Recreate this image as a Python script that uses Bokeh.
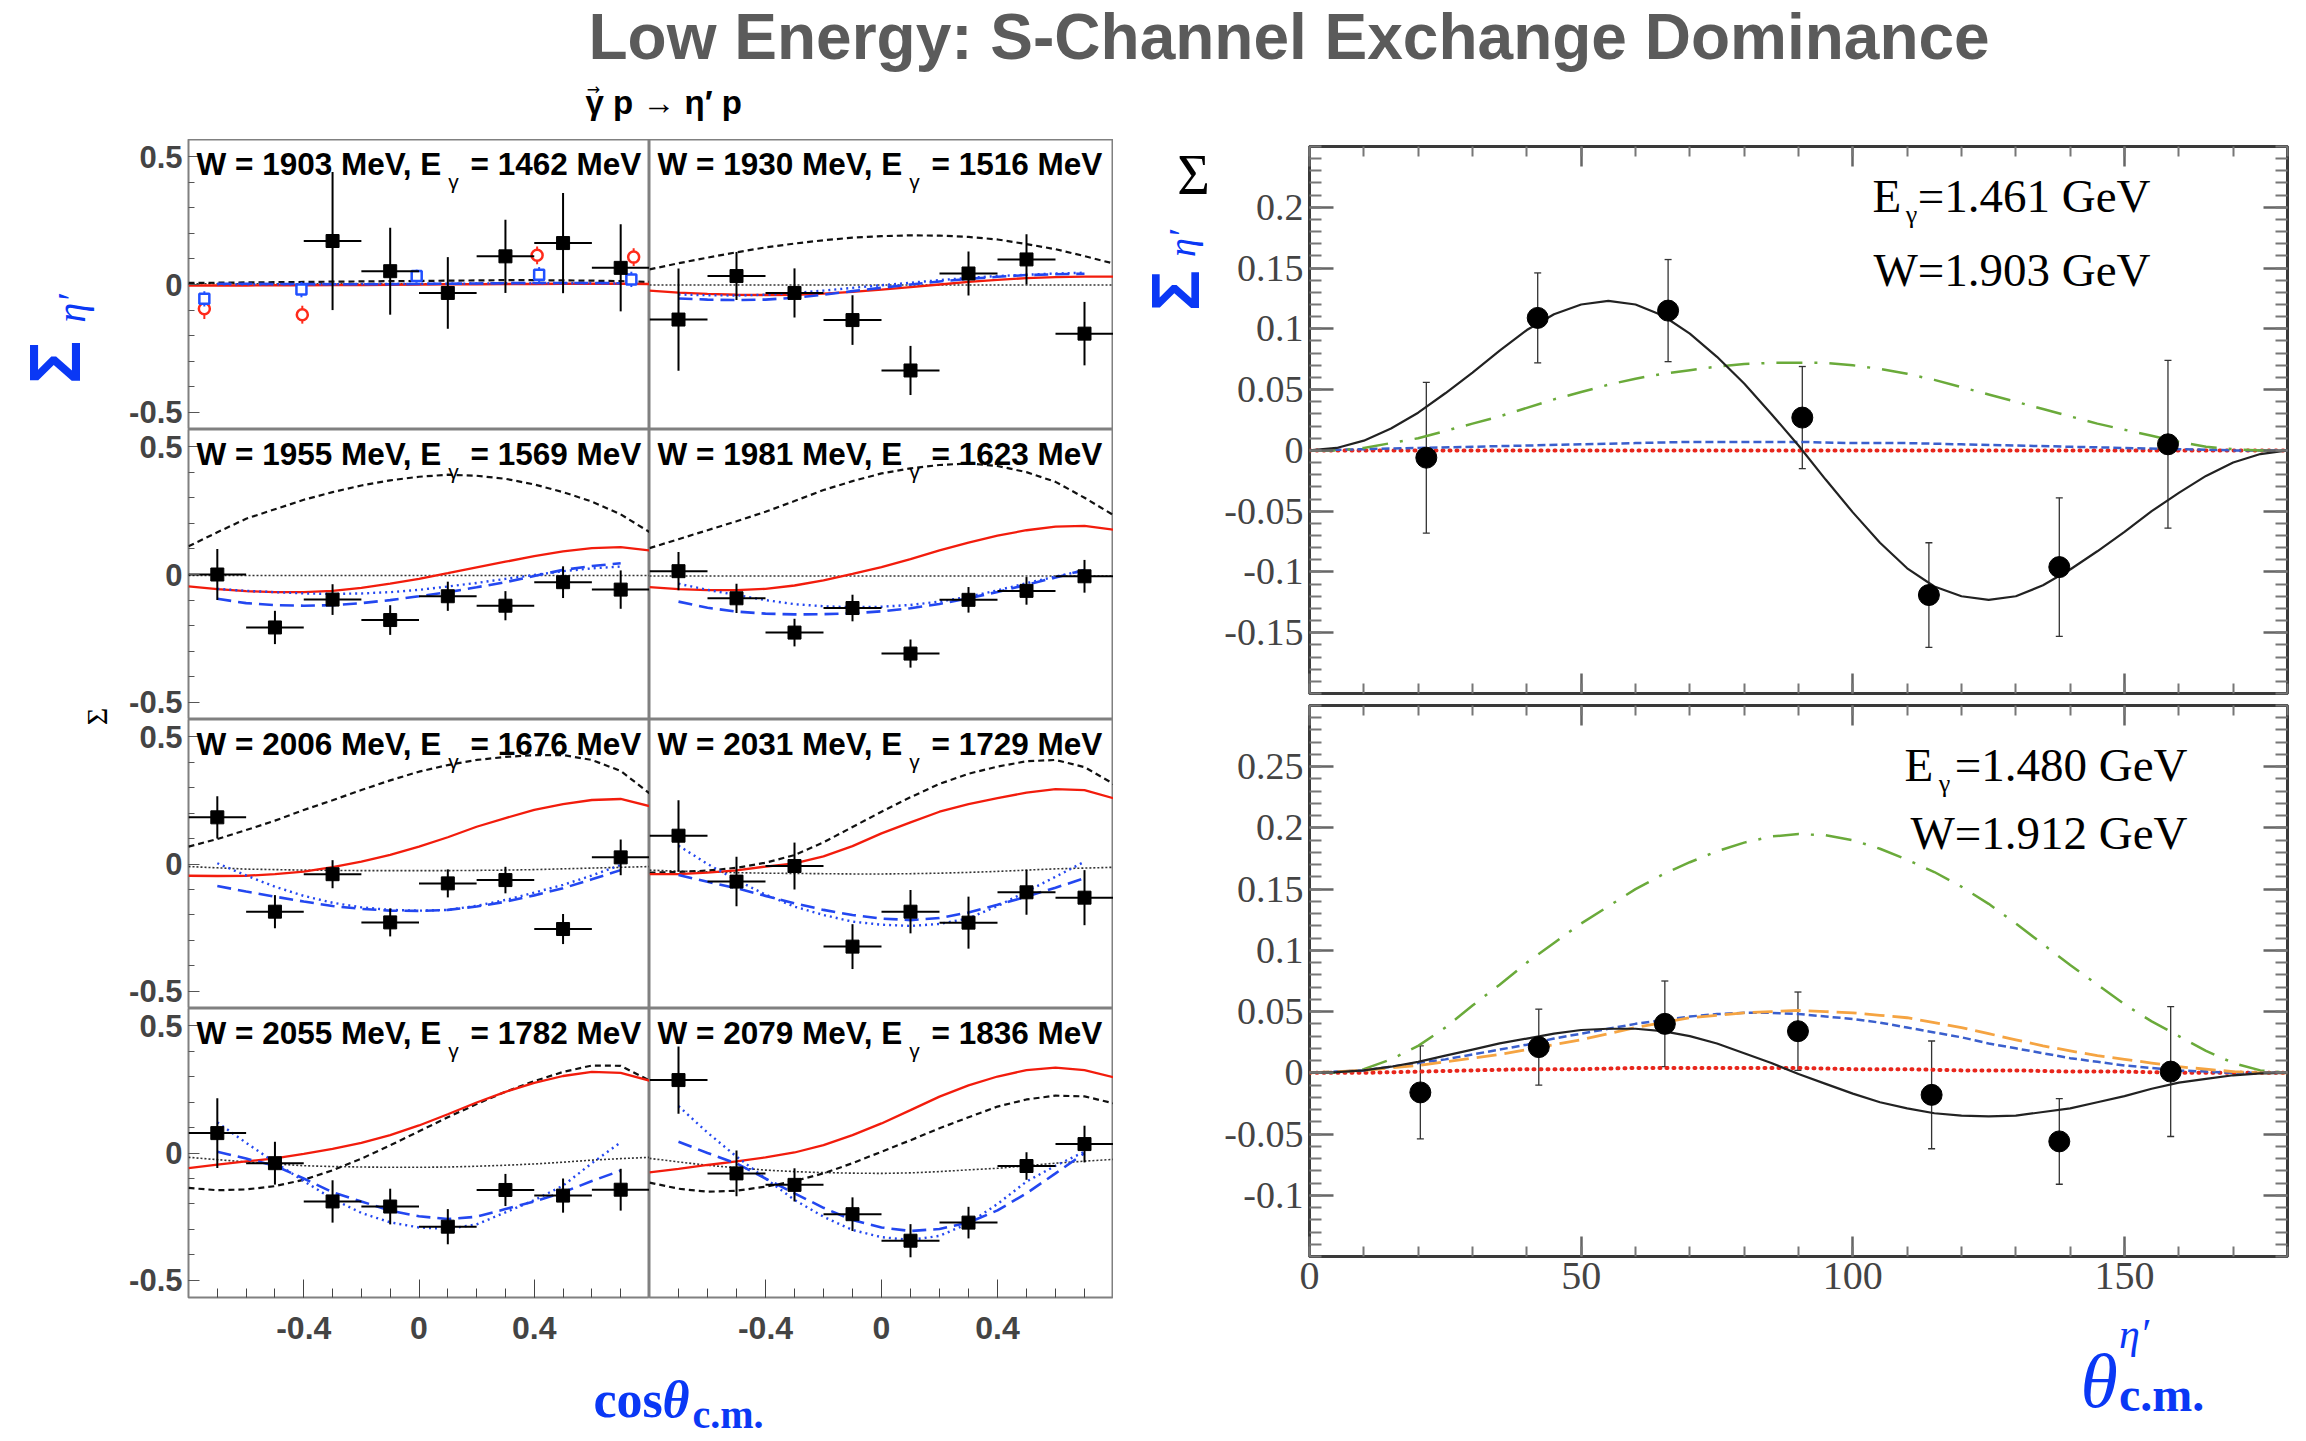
import math
from bokeh.plotting import figure
from bokeh.models import (Range1d, FixedTicker, Label, LinearAxis, ColumnDataSource,
                          Whisker, TeeHead)
from bokeh.layouts import row, column
from bokeh.embed import file_html
from bokeh.resources import INLINE

# ======================= DATA: left grid (Sigma vs cos theta) =======================
COS_BINS = [-0.7, -0.5, -0.3, -0.1, 0.1, 0.3, 0.5, 0.7]
COS_HALF_WIDTH = 0.1
CURVE_COS = [-0.8, -0.7, -0.6, -0.5, -0.4, -0.3, -0.2, -0.1, 0.0, 0.1, 0.2, 0.3, 0.4, 0.5, 0.6, 0.7, 0.8]
BLUE_COS = [-0.7, -0.6, -0.5, -0.4, -0.3, -0.2, -0.1, 0.0, 0.1, 0.2, 0.3, 0.4, 0.5, 0.6, 0.7]

W_MEV = [1903, 1930, 1955, 1981, 2006, 2031, 2055, 2079]
EG_MEV = [1462, 1516, 1569, 1623, 1676, 1729, 1782, 1836]

# W = 1903 MeV
SIG_1903_X = [-0.3, -0.1, 0.1, 0.3, 0.5, 0.7]
SIG_1903 = [0.170, 0.052, -0.033, 0.110, 0.162, 0.065]
ERR_1903 = [0.270, 0.170, 0.140, 0.143, 0.196, 0.170]
DASH_1903 = [0.006, 0.007, 0.008, 0.009, 0.010, 0.011, 0.012, 0.013, 0.014, 0.015, 0.016, 0.017, 0.017, 0.016, 0.015, 0.013, 0.010]
RED_1903 = [-0.004, -0.004, -0.004, -0.003, -0.003, -0.002, -0.002, -0.001, 0.0, 0.001, 0.001, 0.002, 0.002, 0.003, 0.003, 0.003, 0.002]
DOT_1903 = [0.003, 0.003, 0.003, 0.003, 0.003, 0.003, 0.003, 0.003, 0.003, 0.003, 0.003, 0.003, 0.003, 0.003, 0.003, 0.003, 0.003]
BDASH_1903 = [0.003, 0.003, 0.002, 0.002, 0.001, 0.001, 0.001, 0.002, 0.003, 0.004, 0.005, 0.006, 0.006, 0.006, 0.005]
BDOT_1903 = [0.001, 0.001, 0.001, 0.001, 0.001, 0.002, 0.002, 0.003, 0.003, 0.004, 0.005, 0.005, 0.005, 0.005, 0.004]
RED_CIRC_X = [-0.745, -0.405, 0.410, 0.745]
RED_CIRC_Y = [-0.095, -0.118, 0.114, 0.107]
RED_CIRC_ERR = [0.040, 0.035, 0.035, 0.035]
BLUE_SQ_X = [-0.745, -0.408, -0.008, 0.417, 0.737]
BLUE_SQ_Y = [-0.056, -0.020, 0.033, 0.038, 0.020]
BLUE_SQ_ERR = [0.030, 0.030, 0.025, 0.030, 0.030]

# W = 1930 MeV
SIG_1930 = [-0.137, 0.033, -0.033, -0.139, -0.336, 0.043, 0.098, -0.192]
ERR_1930 = [0.200, 0.094, 0.096, 0.097, 0.096, 0.086, 0.098, 0.124]
DASH_1930 = [0.059, 0.083, 0.105, 0.126, 0.145, 0.160, 0.173, 0.183, 0.189, 0.192, 0.191, 0.186, 0.176, 0.158, 0.138, 0.111, 0.082]
RED_1930 = [-0.024, -0.032, -0.037, -0.040, -0.041, -0.040, -0.036, -0.029, -0.020, -0.010, 0.000, 0.010, 0.018, 0.025, 0.029, 0.031, 0.031]
DOT_1930 = [-0.002, -0.002, -0.002, -0.002, -0.002, -0.002, -0.002, -0.002, -0.002, -0.002, -0.002, -0.002, -0.002, -0.002, -0.002, -0.002, -0.002]
BDASH_1930 = [-0.055, -0.059, -0.061, -0.059, -0.052, -0.040, -0.026, -0.013, 0.000, 0.012, 0.022, 0.030, 0.037, 0.040, 0.042]
BDOT_1930 = [-0.039, -0.042, -0.043, -0.040, -0.033, -0.024, -0.013, -0.003, 0.007, 0.017, 0.026, 0.033, 0.038, 0.043, 0.046]

# W = 1955 MeV
SIG_1955 = [0.000, -0.207, -0.098, -0.178, -0.085, -0.122, -0.030, -0.059]
ERR_1955 = [0.100, 0.065, 0.060, 0.058, 0.057, 0.057, 0.062, 0.075]
DASH_1955 = [0.110, 0.165, 0.218, 0.255, 0.292, 0.322, 0.348, 0.368, 0.382, 0.390, 0.386, 0.374, 0.352, 0.322, 0.285, 0.235, 0.166]
RED_1955 = [-0.046, -0.057, -0.065, -0.069, -0.069, -0.064, -0.052, -0.036, -0.017, 0.005, 0.028, 0.050, 0.072, 0.090, 0.103, 0.107, 0.094]
DOT_1955 = [-0.004, -0.004, -0.004, -0.004, -0.004, -0.004, -0.004, -0.004, -0.004, -0.004, -0.004, -0.004, -0.004, -0.004, -0.004, -0.004, -0.004]
BDASH_1955 = [-0.095, -0.112, -0.120, -0.122, -0.120, -0.112, -0.100, -0.085, -0.069, -0.050, -0.030, -0.006, 0.018, 0.033, 0.044]
BDOT_1955 = [-0.056, -0.064, -0.069, -0.074, -0.076, -0.074, -0.069, -0.060, -0.047, -0.033, -0.017, -0.002, 0.013, 0.024, 0.031]

# W = 1981 MeV
SIG_1981 = [0.013, -0.093, -0.227, -0.131, -0.309, -0.099, -0.064, -0.007]
ERR_1981 = [0.075, 0.057, 0.054, 0.052, 0.055, 0.050, 0.054, 0.064]
DASH_1981 = [0.103, 0.138, 0.173, 0.208, 0.245, 0.287, 0.330, 0.365, 0.395, 0.415, 0.428, 0.434, 0.424, 0.400, 0.362, 0.300, 0.232]
RED_1981 = [-0.049, -0.057, -0.061, -0.061, -0.056, -0.043, -0.023, 0.002, 0.029, 0.060, 0.094, 0.125, 0.152, 0.173, 0.187, 0.190, 0.175]
DOT_1981 = [-0.006, -0.006, -0.006, -0.006, -0.006, -0.006, -0.006, -0.006, -0.006, -0.006, -0.006, -0.006, -0.006, -0.006, -0.006, -0.006, -0.006]
BDASH_1981 = [-0.106, -0.130, -0.145, -0.153, -0.156, -0.155, -0.152, -0.144, -0.132, -0.115, -0.093, -0.068, -0.040, -0.012, 0.018]
BDOT_1981 = [-0.036, -0.060, -0.080, -0.100, -0.116, -0.124, -0.128, -0.126, -0.119, -0.106, -0.087, -0.062, -0.034, -0.008, 0.016]

# W = 2006 MeV
SIG_2006 = [0.183, -0.187, -0.040, -0.229, -0.076, -0.063, -0.255, 0.026]
ERR_2006 = [0.083, 0.065, 0.055, 0.055, 0.055, 0.052, 0.059, 0.070]
DASH_2006 = [0.068, 0.098, 0.133, 0.170, 0.212, 0.250, 0.290, 0.328, 0.362, 0.388, 0.408, 0.420, 0.427, 0.427, 0.408, 0.365, 0.277]
RED_2006 = [-0.046, -0.047, -0.046, -0.040, -0.030, -0.012, 0.009, 0.036, 0.068, 0.105, 0.146, 0.180, 0.212, 0.235, 0.251, 0.255, 0.227]
DOT_2006 = [-0.010, -0.015, -0.020, -0.022, -0.024, -0.025, -0.026, -0.026, -0.026, -0.026, -0.025, -0.024, -0.022, -0.019, -0.016, -0.013, -0.010]
BDASH_2006 = [-0.086, -0.108, -0.128, -0.147, -0.165, -0.176, -0.183, -0.184, -0.180, -0.167, -0.148, -0.123, -0.095, -0.060, -0.024]
BDOT_2006 = [0.003, -0.045, -0.089, -0.125, -0.152, -0.170, -0.180, -0.183, -0.180, -0.164, -0.141, -0.112, -0.082, -0.045, -0.004]

# W = 2031 MeV
SIG_2031 = [0.111, -0.069, -0.008, -0.324, -0.187, -0.230, -0.111, -0.132]
ERR_2031 = [0.139, 0.097, 0.092, 0.088, 0.085, 0.102, 0.088, 0.108]
DASH_2031 = [-0.034, -0.031, -0.026, -0.015, 0.005, 0.035, 0.085, 0.145, 0.205, 0.262, 0.314, 0.354, 0.382, 0.403, 0.408, 0.380, 0.314]
RED_2031 = [-0.040, -0.040, -0.034, -0.025, -0.010, 0.002, 0.030, 0.070, 0.120, 0.163, 0.205, 0.235, 0.258, 0.280, 0.294, 0.290, 0.258]
DOT_2031 = [-0.024, -0.028, -0.031, -0.034, -0.036, -0.037, -0.038, -0.039, -0.039, -0.038, -0.036, -0.033, -0.029, -0.024, -0.019, -0.016, -0.013]
BDASH_2031 = [-0.043, -0.070, -0.095, -0.125, -0.154, -0.180, -0.200, -0.214, -0.220, -0.212, -0.190, -0.160, -0.128, -0.093, -0.056]
BDOT_2031 = [0.072, 0.000, -0.063, -0.120, -0.167, -0.200, -0.226, -0.238, -0.243, -0.235, -0.213, -0.165, -0.108, -0.050, 0.009]

# W = 2055 MeV
SIG_2055 = [0.078, -0.040, -0.190, -0.210, -0.289, -0.145, -0.167, -0.144]
ERR_2055 = [0.137, 0.084, 0.083, 0.070, 0.069, 0.063, 0.067, 0.082]
DASH_2055 = [-0.137, -0.146, -0.143, -0.130, -0.105, -0.068, -0.022, 0.030, 0.085, 0.140, 0.192, 0.240, 0.282, 0.318, 0.343, 0.342, 0.284]
RED_2055 = [-0.059, -0.046, -0.033, -0.021, -0.003, 0.016, 0.040, 0.070, 0.108, 0.152, 0.198, 0.240, 0.275, 0.302, 0.318, 0.314, 0.284]
DOT_2055 = [-0.017, -0.026, -0.035, -0.043, -0.050, -0.053, -0.055, -0.056, -0.056, -0.055, -0.052, -0.048, -0.043, -0.036, -0.028, -0.022, -0.017]
BDASH_2055 = [0.005, -0.022, -0.050, -0.100, -0.154, -0.190, -0.226, -0.248, -0.259, -0.250, -0.220, -0.190, -0.154, -0.110, -0.069]
BDOT_2055 = [0.120, 0.040, -0.037, -0.110, -0.180, -0.235, -0.272, -0.292, -0.298, -0.280, -0.233, -0.185, -0.128, -0.040, 0.042]

# W = 2079 MeV
SIG_2079 = [0.286, -0.080, -0.125, -0.240, -0.344, -0.273, -0.051, 0.035]
ERR_2079 = [0.132, 0.090, 0.065, 0.066, 0.065, 0.062, 0.054, 0.072]
DASH_2079 = [-0.116, -0.140, -0.152, -0.148, -0.132, -0.110, -0.080, -0.040, 0.005, 0.050, 0.097, 0.140, 0.182, 0.210, 0.225, 0.222, 0.195]
RED_2079 = [-0.076, -0.062, -0.047, -0.033, -0.017, 0.002, 0.031, 0.070, 0.116, 0.168, 0.221, 0.265, 0.300, 0.325, 0.335, 0.325, 0.297]
DOT_2079 = [-0.021, -0.035, -0.048, -0.058, -0.067, -0.073, -0.077, -0.079, -0.080, -0.078, -0.073, -0.066, -0.060, -0.050, -0.040, -0.032, -0.025]
BDASH_2079 = [0.044, 0.000, -0.041, -0.100, -0.158, -0.215, -0.263, -0.292, -0.306, -0.298, -0.273, -0.225, -0.158, -0.080, -0.001]
BDOT_2079 = [0.184, 0.080, -0.014, -0.100, -0.184, -0.250, -0.302, -0.330, -0.341, -0.325, -0.276, -0.200, -0.112, -0.050, 0.005]

# ======================= DATA: right panels (Sigma vs theta) =======================
THETA5 = [0, 5, 10, 15, 20, 25, 30, 35, 40, 45, 50, 55, 60, 65, 70, 75, 80, 85, 90,
          95, 100, 105, 110, 115, 120, 125, 130, 135, 140, 145, 150, 155, 160, 165, 170, 175, 180]
THETA10 = [0, 10, 20, 30, 40, 50, 60, 70, 80, 90, 100, 110, 120, 130, 140, 150, 160, 170, 180]

SIG_1461_THETA = [21.5, 42.0, 66.0, 90.7, 114.0, 138.0, 158.0]
SIG_1461 = [-0.006, 0.109, 0.115, 0.027, -0.119, -0.096, 0.005]
ERR_1461 = [0.062, 0.037, 0.042, 0.042, 0.043, 0.057, 0.069]
SOLID_1461 = [0.0, 0.002, 0.008, 0.018, 0.031, 0.047, 0.064, 0.082, 0.099, 0.112, 0.120, 0.123, 0.120,
              0.111, 0.096, 0.077, 0.055, 0.030, 0.004, -0.024, -0.051, -0.076, -0.097, -0.112, -0.120,
              -0.123, -0.120, -0.111, -0.098, -0.083, -0.067, -0.050, -0.035, -0.021, -0.010, -0.003, 0.0]
GREEN_1461 = [0.0, 0.0, 0.002, 0.006, 0.010, 0.016, 0.022, 0.028, 0.035, 0.042, 0.048, 0.054, 0.059,
              0.063, 0.066, 0.069, 0.071, 0.072, 0.072, 0.072, 0.070, 0.067, 0.063, 0.058, 0.052,
              0.046, 0.040, 0.034, 0.028, 0.022, 0.017, 0.012, 0.007, 0.003, 0.001, 0.0, 0.0]
BLUE_1461 = [0.0, 0.001, 0.002, 0.003, 0.004, 0.005, 0.006, 0.007, 0.007, 0.007, 0.006, 0.006, 0.005, 0.004, 0.003, 0.002, 0.001, 0.0, 0.0]
REDDOT_1461 = [0.0, 0.0, 0.0, 0.0, 0.0, 0.0, 0.0, 0.0, 0.0, 0.0, 0.0, 0.0, 0.0, 0.0, 0.0, 0.0, 0.0, 0.0, 0.0]

SIG_1480_THETA = [20.4, 42.2, 65.4, 89.9, 114.5, 138.0, 158.5]
SIG_1480 = [-0.016, 0.021, 0.040, 0.034, -0.018, -0.056, 0.001]
ERR_1480 = [0.038, 0.031, 0.035, 0.032, 0.044, 0.035, 0.053]
SOLID_1480 = [0.0, 0.0005, 0.002, 0.005, 0.009, 0.014, 0.019, 0.024, 0.028, 0.032, 0.035, 0.036, 0.036,
              0.034, 0.030, 0.024, 0.016, 0.008, -0.001, -0.009, -0.017, -0.024, -0.029, -0.033, -0.035,
              -0.0355, -0.035, -0.032, -0.029, -0.024, -0.019, -0.013, -0.008, -0.005, -0.002, -0.0005, 0.0]
ORANGE_1480 = [0.0, 0.001, 0.002, 0.004, 0.006, 0.009, 0.012, 0.015, 0.019, 0.023, 0.027, 0.032, 0.037,
               0.041, 0.045, 0.047, 0.049, 0.050, 0.051, 0.050, 0.049, 0.047, 0.045, 0.041, 0.037,
               0.032, 0.027, 0.022, 0.018, 0.014, 0.011, 0.008, 0.005, 0.003, 0.001, 0.0, 0.0]
BLUE_1480 = [0.0, 0.001, 0.002, 0.005, 0.008, 0.011, 0.015, 0.019, 0.023, 0.028, 0.032, 0.036, 0.040,
             0.043, 0.046, 0.048, 0.049, 0.049, 0.048, 0.046, 0.044, 0.041, 0.037, 0.033, 0.029,
             0.024, 0.020, 0.016, 0.012, 0.009, 0.006, 0.004, 0.002, 0.001, 0.0, 0.0, 0.0]
GREEN_1480 = [0.0, 0.0, 0.003, 0.011, 0.022, 0.037, 0.055, 0.072, 0.090, 0.106, 0.122, 0.136, 0.150,
              0.162, 0.172, 0.181, 0.188, 0.193, 0.195, 0.194, 0.190, 0.183, 0.174, 0.164, 0.152,
              0.138, 0.122, 0.105, 0.088, 0.072, 0.056, 0.042, 0.030, 0.018, 0.008, 0.002, 0.0]
REDDOT_1480 = [0.0, 0.0, 0.001, 0.002, 0.003, 0.003, 0.004, 0.004, 0.004, 0.004, 0.003, 0.003, 0.002, 0.002, 0.001, 0.001, 0.0, 0.0, 0.0]

# ======================= styling =======================
SANS = "Liberation Sans"
SERIF = "Liberation Serif"
TXT_BLUE = "#0a38f5"
L_RED = "#f21c0c"
L_BLUE = "#2347f0"
BASE = 0.38          # baseline correction (fraction of font size) for alphabetic labels

LEFT_FW, RIGHT_FW = 461, 464
ROW_FH = [290, 290, 289, 289]
ROW_TOP = [139, 429, 719, 1008]
YMAX = 0.5667
Y_MINOR = [-0.5, -0.4, -0.3, -0.2, -0.1, 0.0, 0.1, 0.2, 0.3, 0.4, 0.5]
X_MINOR = [-0.7, -0.6, -0.5, -0.4, -0.3, -0.2, -0.1, 0.0, 0.1, 0.2, 0.3, 0.4, 0.5, 0.6, 0.7]


def clean(p):
    p.grid.visible = False
    p.background_fill_color = "white"
    p.border_fill_color = "white"


def add_label(p, x, y, text, size, font=SANS, style="normal", color="black",
              align="left", angle=0.0):
    p.add_layout(Label(x=x, y=y, text=text, text_font=font, text_font_size=f"{size}px",
                       text_font_style=style, text_color=color, text_align=align,
                       text_baseline="alphabetic", angle=angle))


def text_fig(w, h):
    f = figure(width=w, height=h, x_range=Range1d(0, w), y_range=Range1d(h, 0),
               min_border=0, toolbar_location=None, tools="", output_backend="svg")
    clean(f)
    f.outline_line_color = None
    f.axis.visible = False
    return f


def hide_labels(ax):
    ax.major_label_text_font_size = "0px"
    ax.major_label_text_color = None
    ax.major_label_standoff = 0


PANELS = [
    (W_MEV[0], EG_MEV[0], SIG_1903_X, SIG_1903, ERR_1903, DASH_1903, RED_1903, DOT_1903, BDASH_1903, BDOT_1903),
    (W_MEV[1], EG_MEV[1], COS_BINS, SIG_1930, ERR_1930, DASH_1930, RED_1930, DOT_1930, BDASH_1930, BDOT_1930),
    (W_MEV[2], EG_MEV[2], COS_BINS, SIG_1955, ERR_1955, DASH_1955, RED_1955, DOT_1955, BDASH_1955, BDOT_1955),
    (W_MEV[3], EG_MEV[3], COS_BINS, SIG_1981, ERR_1981, DASH_1981, RED_1981, DOT_1981, BDASH_1981, BDOT_1981),
    (W_MEV[4], EG_MEV[4], COS_BINS, SIG_2006, ERR_2006, DASH_2006, RED_2006, DOT_2006, BDASH_2006, BDOT_2006),
    (W_MEV[5], EG_MEV[5], COS_BINS, SIG_2031, ERR_2031, DASH_2031, RED_2031, DOT_2031, BDASH_2031, BDOT_2031),
    (W_MEV[6], EG_MEV[6], COS_BINS, SIG_2055, ERR_2055, DASH_2055, RED_2055, DOT_2055, BDASH_2055, BDOT_2055),
    (W_MEV[7], EG_MEV[7], COS_BINS, SIG_2079, ERR_2079, DASH_2079, RED_2079, DOT_2079, BDASH_2079, BDOT_2079),
]


def grid_panel(idx):
    r, c = divmod(idx, 2)
    w, eg, sx, sy, se, dash, red, dot, bdash, bdot = PANELS[idx]
    left = (c == 0)
    bottom = (r == 3)
    fw = LEFT_FW if left else RIGHT_FW
    fh = ROW_FH[r]
    p = figure(frame_width=fw, frame_height=fh,
               x_range=Range1d(-0.8, 0.8), y_range=Range1d(-YMAX, YMAX),
               min_border_left=68 if left else 0, min_border_right=0,
               min_border_top=0, min_border_bottom=61 if bottom else 0,
               toolbar_location=None, tools="", output_backend="svg")
    clean(p)
    p.outline_line_color = "#808080"
    p.outline_line_width = 2

    if left:
        ya = p.left[0]
        ya.ticker = FixedTicker(ticks=[-0.5, 0.0, 0.5], minor_ticks=Y_MINOR)
        ya.major_label_overrides = {-0.5: "-0.5", 0.0: "0", 0.5: "0.5"}
        ya.axis_line_color = None
        ya.major_tick_in = 11
        ya.major_tick_out = 0
        ya.minor_tick_in = 6
        ya.minor_tick_out = 0
        ya.major_tick_line_color = "#555555"
        ya.minor_tick_line_color = "#555555"
        ya.major_label_text_font = SANS
        ya.major_label_text_font_style = "bold"
        ya.major_label_text_font_size = "31px"
        ya.major_label_standoff = 6
    else:
        p.yaxis.visible = False

    if bottom:
        xa = p.below[0]
        xa.ticker = FixedTicker(ticks=[-0.4, 0.0, 0.4], minor_ticks=X_MINOR)
        xa.major_label_overrides = {-0.4: "-0.4", 0.0: "0", 0.4: "0.4"}
        xa.axis_line_color = None
        xa.major_tick_in = 18
        xa.major_tick_out = 0
        xa.minor_tick_in = 9
        xa.minor_tick_out = 0
        xa.major_tick_line_color = "#444444"
        xa.minor_tick_line_color = "#444444"
        xa.major_label_text_font = SANS
        xa.major_label_text_font_style = "bold"
        xa.major_label_text_font_size = "32px"
        xa.major_label_standoff = 19
    else:
        p.xaxis.visible = False

    # model curves
    p.line(CURVE_COS, dot, line_color="#333333", line_dash="2 2", line_width=1.6)
    p.line(CURVE_COS, dash, line_color="#111111", line_dash="6 4", line_width=2.2)
    p.line(CURVE_COS, red, line_color=L_RED, line_width=2.3)
    p.line(BLUE_COS, bdash, line_color=L_BLUE, line_dash="14 7", line_width=2.6)
    p.line(BLUE_COS, bdot, line_color=L_BLUE, line_dash="2 4", line_width=2.4)

    if idx == 0:
        p.segment(x0=RED_CIRC_X, y0=[y - e for y, e in zip(RED_CIRC_Y, RED_CIRC_ERR)],
                  x1=RED_CIRC_X, y1=[y + e for y, e in zip(RED_CIRC_Y, RED_CIRC_ERR)],
                  line_color="#ff2a1a", line_width=2)
        p.scatter(RED_CIRC_X, RED_CIRC_Y, marker="circle", size=11, fill_color="white",
                  line_color="#ff2a1a", line_width=2.5)
        p.segment(x0=BLUE_SQ_X, y0=[y - e for y, e in zip(BLUE_SQ_Y, BLUE_SQ_ERR)],
                  x1=BLUE_SQ_X, y1=[y + e for y, e in zip(BLUE_SQ_Y, BLUE_SQ_ERR)],
                  line_color="#2050ff", line_width=2)
        p.scatter(BLUE_SQ_X, BLUE_SQ_Y, marker="square", size=10, fill_color="white",
                  line_color="#2050ff", line_width=2.5)

    # data with error bars
    p.segment(x0=[x - COS_HALF_WIDTH for x in sx], y0=sy, x1=[x + COS_HALF_WIDTH for x in sx], y1=sy,
              line_color="black", line_width=2)
    p.segment(x0=sx, y0=[y - e for y, e in zip(sy, se)], x1=sx, y1=[y + e for y, e in zip(sy, se)],
              line_color="black", line_width=2)
    p.scatter(sx, sy, marker="square", size=13, color="black")

    # panel caption
    def dy(py):
        return YMAX - (py - ROW_TOP[r]) / fh * 2 * YMAX

    def dx(off):
        return -0.8 + off / fw * 1.6
    t = ROW_TOP[r]
    add_label(p, dx(8), dy(t + 36 - BASE * 31.5), f"W = {w} MeV, E", 31.5, style="bold")
    add_label(p, dx(265), dy(t + 50 - BASE * 21), "γ", 21, align="center")
    add_label(p, dx(282), dy(t + 36 - BASE * 31.5), f"= {eg} MeV", 31.5, style="bold")
    return p


grid = [grid_panel(i) for i in range(8)]

# ---------------- header ----------------
hdr = text_fig(2306, 139)
add_label(hdr, 588, 61 - BASE * 64, "Low Energy: S-Channel Exchange  Dominance", 64, style="bold", color="#5b5b5b")
add_label(hdr, 585, 115 - BASE * 33, "γ p → η′ p", 33, style="bold")
add_label(hdr, 593, 95 - BASE * 16, "→", 16, font="DejaVu Sans", align="center")

# ---------------- left y-label column (x from 0, y from 139) ----------------
lab_l = text_fig(120, 1219)
add_label(lab_l, 82 - BASE * 72, 362 - 139, "Σ", 72, style="bold", color=TXT_BLUE,
          align="center", angle=math.pi / 2)
add_label(lab_l, 86 - BASE * 40, 308 - 139, "η′", 40, font=SERIF, style="italic", color=TXT_BLUE,
          align="center", angle=math.pi / 2)
add_label(lab_l, 107 - BASE * 30, 716 - 139, "Σ", 30, font=SERIF, align="center", angle=math.pi / 2)

# ---------------- footer (left x label), top at y=1358 ----------------
ftr = text_fig(1113, 83)
add_label(ftr, 593, 1419 - 1358 - BASE * 52, "cos", 52, font=SERIF, style="bold", color=TXT_BLUE)
add_label(ftr, 662, 1419 - 1358 - BASE * 52, "θ", 52, font=SERIF, style="bold italic", color=TXT_BLUE)
add_label(ftr, 692, 1429 - 1358 - BASE * 40, "c.m.", 40, font=SERIF, style="bold", color=TXT_BLUE)

# ---------------- right y-label column (x from 1113, y from 139) ----------------
lab_r = text_fig(102, 1302)
add_label(lab_r, 1193 - 1113, 196 - 139 - BASE * 56, "Σ", 56, font=SERIF, align="center")
add_label(lab_r, 1200 - 1113 - BASE * 68, 290 - 139, "Σ", 68, style="bold", color=TXT_BLUE,
          align="center", angle=math.pi / 2)
add_label(lab_r, 1196 - 1113 - BASE * 38, 243 - 139, "η′", 38, font=SERIF, style="italic",
          color=TXT_BLUE, align="center", angle=math.pi / 2)

# ---------------- right footer (x from 1215, y from 1312) ----------------
ftr_r = text_fig(1091, 129)
add_label(ftr_r, 2096 - 1215, 1409 - 1312 - BASE * 76, "θ", 76, font=SERIF, style="italic",
          color=TXT_BLUE, align="center")
add_label(ftr_r, 2118 - 1215, 1349 - 1312 - BASE * 42, "η′", 42, font=SERIF, style="italic",
          color=TXT_BLUE)
add_label(ftr_r, 2118 - 1215, 1412 - 1312 - BASE * 48, "c.m.", 48, font=SERIF, style="bold",
          color=TXT_BLUE)


# ---------------- right panels ----------------
def right_panel(top):
    if top:
        yr = (-0.20, 0.25)
        fh, bt, bb, ftop = 547, 7, 6, 146
        ticks = [-0.15, -0.1, -0.05, 0.0, 0.05, 0.1, 0.15, 0.2]
        over = {-0.15: "-0.15", -0.1: "-0.1", -0.05: "-0.05", 0.0: "0", 0.05: "0.05",
                0.1: "0.1", 0.15: "0.15", 0.2: "0.2"}
    else:
        yr = (-0.15, 0.30)
        fh, bt, bb, ftop = 551, 6, 56, 705
        ticks = [-0.1, -0.05, 0.0, 0.05, 0.1, 0.15, 0.2, 0.25]
        over = {-0.1: "-0.1", -0.05: "-0.05", 0.0: "0", 0.05: "0.05", 0.1: "0.1",
                0.15: "0.15", 0.2: "0.2", 0.25: "0.25"}
    yminor = [round(yr[0] + 0.01 * i, 2) for i in range(46)]
    p = figure(frame_width=978, frame_height=fh, x_range=Range1d(0, 180), y_range=Range1d(*yr),
               min_border_left=94, min_border_right=19, min_border_top=bt, min_border_bottom=bb,
               toolbar_location=None, tools="", output_backend="svg")
    clean(p)
    p.outline_line_color = "#3a3a3a"
    p.outline_line_width = 3

    xt = FixedTicker(ticks=[0, 50, 100, 150], minor_ticks=list(range(0, 181, 10)))
    yt = FixedTicker(ticks=ticks, minor_ticks=yminor)
    p.add_layout(LinearAxis(), "right")
    p.add_layout(LinearAxis(), "above")
    for ax in p.left + p.right:
        ax.ticker = yt
        ax.major_tick_in, ax.major_tick_out = 24, 0
        ax.minor_tick_in, ax.minor_tick_out = 12, 0
    for ax in p.above + p.below:
        ax.ticker = xt
        ax.major_tick_in, ax.major_tick_out = 20, 0
        ax.minor_tick_in, ax.minor_tick_out = 10, 0
    for ax in p.left + p.right + p.above + p.below:
        ax.axis_line_color = None
        ax.major_tick_line_color = "#666666"
        ax.minor_tick_line_color = "#777777"
        ax.major_tick_line_width = 2.5
        ax.minor_tick_line_width = 2
        ax.major_label_text_font = SERIF
    for ax in p.right + p.above:
        hide_labels(ax)
    ly = p.left[0]
    ly.major_label_overrides = over
    ly.major_label_text_font_size = "38px"
    ly.major_label_standoff = 6
    bx = p.below[0]
    if top:
        hide_labels(bx)
    else:
        bx.major_label_text_font_size = "40px"
        bx.major_label_standoff = 6

    def dx(px):
        return (px - 1309) / 978 * 180

    def dy(py):
        return yr[1] - (py - ftop) / fh * (yr[1] - yr[0])

    if top:
        p.line(THETA10, REDDOT_1461, line_color="#e8261c", line_dash="1 6", line_width=4, line_cap="round")
        p.line(THETA10, BLUE_1461, line_color="#3a5fcd", line_dash="8 4", line_width=2.5)
        p.line(THETA5, GREEN_1461, line_color="#6aaa3a", line_dash="26 12 3 12", line_width=2.5)
        p.line(THETA5, SOLID_1461, line_color="#222222", line_width=2.2)
        sx, sy, se = SIG_1461_THETA, SIG_1461, ERR_1461
        add_label(p, dx(1872), dy(213 - BASE * 47), "E", 47, font=SERIF)
        add_label(p, dx(1911), dy(224 - BASE * 26), "γ", 26, font=SERIF, align="center")
        add_label(p, dx(2150), dy(213 - BASE * 47), "=1.461 GeV", 47, font=SERIF, align="right")
        add_label(p, dx(2150), dy(287 - BASE * 47), "W=1.903 GeV", 47, font=SERIF, align="right")
    else:
        p.line(THETA10, REDDOT_1480, line_color="#e8261c", line_dash="1 6", line_width=4, line_cap="round")
        p.line(THETA5, GREEN_1480, line_color="#6aaa3a", line_dash="26 12 3 12", line_width=2.5)
        p.line(THETA5, BLUE_1480, line_color="#3a5fcd", line_dash="8 4", line_width=2.5)
        p.line(THETA5, ORANGE_1480, line_color="#f5a442", line_dash="20 8", line_width=2.8)
        p.line(THETA5, SOLID_1480, line_color="#222222", line_width=2.2)
        sx, sy, se = SIG_1480_THETA, SIG_1480, ERR_1480
        add_label(p, dx(1904), dy(782 - BASE * 47), "E", 47, font=SERIF)
        add_label(p, dx(1944), dy(793 - BASE * 26), "γ", 26, font=SERIF, align="center")
        add_label(p, dx(2187), dy(782 - BASE * 47), "=1.480 GeV", 47, font=SERIF, align="right")
        add_label(p, dx(2187), dy(850 - BASE * 47), "W=1.912 GeV", 47, font=SERIF, align="right")

    src = ColumnDataSource(dict(x=sx, lo=[y - e for y, e in zip(sy, se)], hi=[y + e for y, e in zip(sy, se)]))
    p.add_layout(Whisker(source=src, base="x", lower="lo", upper="hi", dimension="height",
                         line_color="#333333", line_width=1.3,
                         upper_head=TeeHead(size=7, line_color="#333333", line_width=1.3),
                         lower_head=TeeHead(size=7, line_color="#333333", line_width=1.3)))
    p.scatter(sx, sy, marker="circle", size=21, color="black")
    return p


rt = right_panel(True)
rb = right_panel(False)

grid_col = column(row(grid[0], grid[1]), row(grid[2], grid[3]), row(grid[4], grid[5]),
                  row(grid[6], grid[7]))
left_block = column(row(lab_l, grid_col), ftr)
right_block = row(lab_r, column(rt, rb, ftr_r))
layout = column(hdr, row(left_block, right_block))

open("out.html", "w").write(file_html(layout, INLINE, title="Low Energy: S-Channel Exchange Dominance"))
